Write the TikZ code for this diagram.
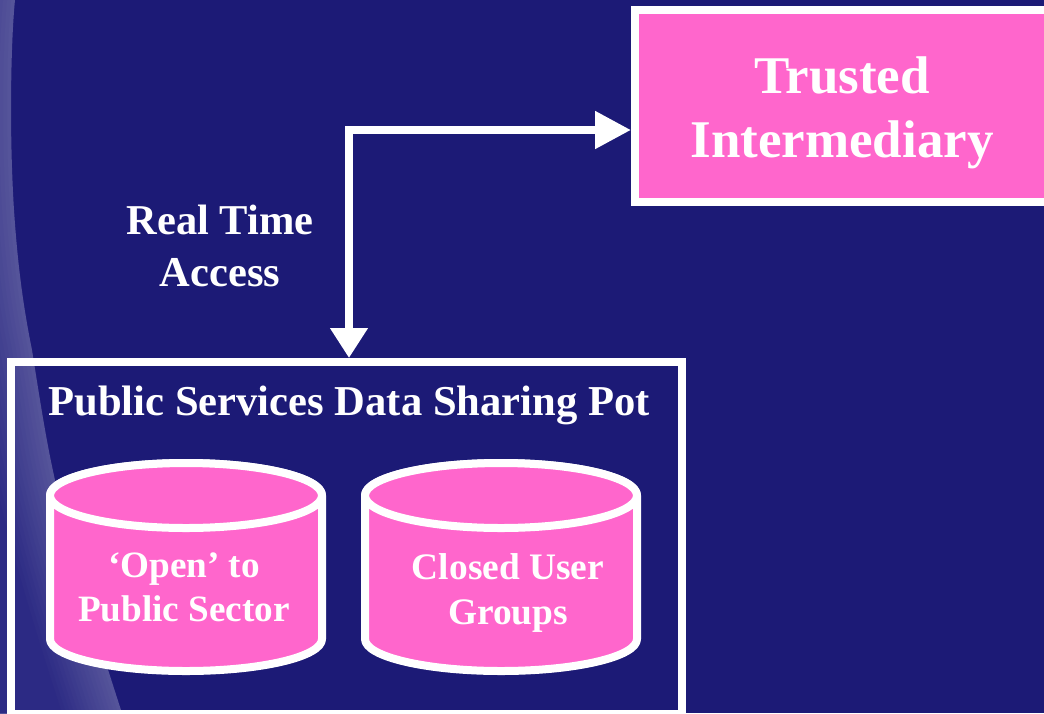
\documentclass[tikz,border=0pt]{standalone}
\usepackage{fontspec}
\setmainfont{Liberation Serif}
\definecolor{bgnavy}{HTML}{1C1A76}
\definecolor{hotpink}{HTML}{FF66CC}
\definecolor{swooshlight}{HTML}{55549A}
\definecolor{swooshdark}{HTML}{2C2A84}
\usetikzlibrary{arrows.meta}
\tikzset{
  outline/.style={draw=white,line width=8pt},
  label/.style={text=white,align=center,inner sep=0pt},
  flowh/.style={draw=white,line width=8pt,-{Triangle[length=36pt,width=36pt]}},
  flowv/.style={draw=white,line width=8pt,-{Triangle[length=30pt,width=36pt]}},
  can/.style={outline,fill=hotpink,line join=round}
}
\begin{document}
\begin{tikzpicture}[x=1pt,y=-1pt]
\useasboundingbox (0,0) rectangle (1044,713);
\fill[bgnavy] (0,0) rectangle (1044,713);
\begin{scope}
\clip (0,0) rectangle (1044,713);
\foreach \d in {0,4,...,60}{
  \pgfmathsetmacro{\mixv}{100-1.667*\d}
  \fill[swooshlight!\mixv!swooshdark,xshift=-\d pt] (-70,0) -- (15,0) .. controls (11,40) and (9,130) .. (14,210) .. controls (18,270) and (24,310) .. (32,350) .. controls (40,400) and (46,440) .. (55,480) .. controls (70,545) and (90,615) .. (122,713) -- (-70,713) -- cycle;
}
\end{scope}
\node[outline,fill=hotpink,minimum width=420pt,minimum height=191.7pt,anchor=north west,inner sep=0pt] (ti) at (631,6) {};
\node[label,font=\bfseries\fontsize{53}{64}\selectfont] (titext) at (842,112.5) {Trusted\\Intermediary};
\node[outline,minimum width=671pt,minimum height=351.7pt,anchor=north west,inner sep=0pt] (pot) at (7,358) {};
\node[label,font=\bfseries\fontsize{42.6}{50}\selectfont] (pottext) at (349,405) {Public Services Data Sharing Pot};
\node[label,font=\bfseries\fontsize{42.5}{52}\selectfont] (rt) at (220,246) {Real Time\\Access};
\coordinate (corner) at (349,130);
\draw[flowh] ([xshift=-4pt]corner) -- (ti.west |- corner);
\draw[flowv] ([yshift=-4pt]corner) -- (corner |- pot.north);
% left cylinder
\path[can] (50,495.5) -- (50,639) arc[start angle=180,end angle=0,x radius=136,y radius=32] -- (322,495.5) arc[start angle=0,end angle=-180,x radius=136,y radius=32.5] -- cycle;
\draw[can] (186,495.5) ellipse[x radius=136,y radius=32.5];
\node[label,font=\bfseries\fontsize{37.2}{44}\selectfont] (open) at (184,587.5) {‘Open’ to\\Public Sector};
% right cylinder
\path[can] (365,495.5) -- (365,639) arc[start angle=180,end angle=0,x radius=136,y radius=32] -- (637,495.5) arc[start angle=0,end angle=-180,x radius=136,y radius=32.5] -- cycle;
\draw[can] (501,495.5) ellipse[x radius=136,y radius=32.5];
\node[label,font=\bfseries\fontsize{37.4}{45}\selectfont] (closed) at (508,592.5) {Closed User\\Groups};
\end{tikzpicture}
\end{document}
